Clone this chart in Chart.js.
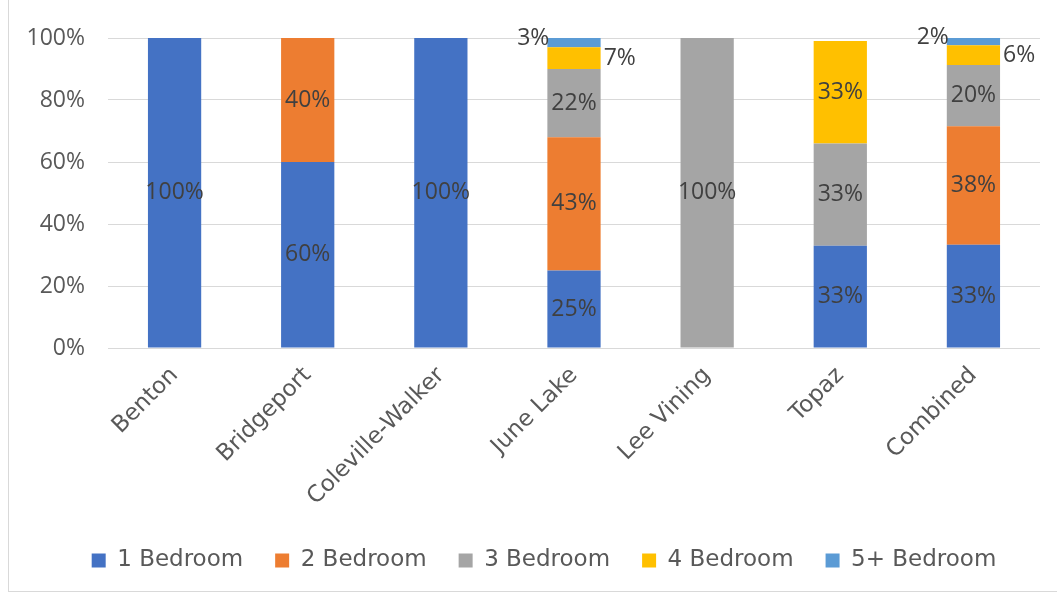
<!DOCTYPE html>
<html><head><meta charset="utf-8">
<script src="https://cdn.jsdelivr.net/npm/chart.js@4.4.0/dist/chart.umd.min.js"></script>
<style>
html,body{margin:0;padding:0;background:#fff;}
#wrap{position:relative;width:1057px;height:595px;overflow:hidden;}
#frame{position:absolute;left:8px;top:-2px;width:1070px;height:594px;border:1px solid #d9d9d9;box-sizing:border-box;}
canvas{position:absolute;left:0;top:0;}
</style></head>
<body><div id="wrap"><div id="frame"></div><canvas id="c" width="1057" height="595"></canvas></div>
<script>
const categories = ['Benton', 'Bridgeport', 'Coleville-Walker', 'June Lake', 'Lee Vining', 'Topaz', 'Combined'];
const seriesNames = ['1 Bedroom', '2 Bedroom', '3 Bedroom', '4 Bedroom', '5+ Bedroom'];
const oneBedroom = [100, 60, 100, 25, 0, 33, 33.3];
const twoBedroom = [0, 40, 0, 43, 0, 0, 38.2];
const threeBedroom = [0, 0, 0, 22, 100, 33, 19.8];
const fourBedroom = [0, 0, 0, 7, 0, 33, 6.4];
const fivePlusBedroom = [0, 0, 0, 3, 0, 0, 2.3];
const yTickValues = [0, 20, 40, 60, 80, 100];
const seriesColors = ['#4472C4', '#ED7D31', '#A5A5A5', '#FFC000', '#5B9BD5'];

const NUM_FONT = '"Open Sans", sans-serif';
const TXT_FONT = '"DejaVu Sans", sans-serif';
const FS = 23;
const allSeries = [oneBedroom, twoBedroom, threeBedroom, fourBedroom, fivePlusBedroom];
const LEG_PAD = 32;

const labelPlugin = {
  id: 'segLabels',
  afterLayout(chart) {
    if (chart.legend) { chart.legend.left += 48; }
  },
  afterDatasetsDraw(chart) {
    const ctx = chart.ctx;
    ctx.save();
    ctx.font = FS + 'px ' + NUM_FONT;
    ctx.fillStyle = '#404040';
    ctx.textBaseline = 'middle';
    chart.data.datasets.forEach((ds, di) => {
      const meta = chart.getDatasetMeta(di);
      meta.data.forEach((el, i) => {
        const v = ds.data[i];
        if (!v) return;
        const txt = Math.round(v) + '%';
        const cy = (el.y + el.base) / 2;
        if (di === 3 && v < 10) {
          ctx.textAlign = 'left';
          ctx.fillText(txt, el.x + el.width / 2 + 3, cy);
        } else if (di === 4) {
          ctx.textAlign = 'right';
          ctx.fillText(txt, el.x - el.width / 2 + 2, cy - 4);
        } else {
          ctx.textAlign = 'center';
          ctx.fillText(txt, el.x, cy);
        }
      });
    });
    ctx.restore();
  }
};

new Chart(document.getElementById('c'), {
  type: 'bar',
  data: {
    labels: categories,
    datasets: seriesNames.map((n, i) => ({
      label: n,
      data: allSeries[i],
      backgroundColor: seriesColors[i],
      borderWidth: 0,
      barPercentage: 0.4,
      categoryPercentage: 1.0
    }))
  },
  options: {
    responsive: false,
    animation: false,
    layout: { padding: { top: 38, right: 17, bottom: 13, left: 0 } },
    plugins: {
      tooltip: { enabled: false },
      legend: {
        position: 'bottom',
        labels: {
          font: { family: TXT_FONT, size: FS },
          color: '#595959',
          boxWidth: 14,
          boxHeight: 14,
          padding: LEG_PAD
        }
      }
    },
    scales: {
      x: {
        stacked: true,
        grid: { display: false },
        border: { display: false },
        ticks: {
          font: { family: TXT_FONT, size: FS },
          color: '#595959',
          minRotation: 45,
          maxRotation: 45,
          padding: 6
        },
        afterFit(s) { s.height = 548 - LEG_PAD - 347; }
      },
      y: {
        stacked: true,
        min: 0,
        max: 100,
        afterBuildTicks(s) { s.ticks = yTickValues.map(v => ({ value: v })); },
        grid: { color: '#d9d9d9', lineWidth: 1, drawTicks: false },
        border: { display: false },
        ticks: {
          font: { family: NUM_FONT, size: FS },
          color: '#595959',
          padding: 23,
          callback: v => v + '%'
        },
        afterFit(s) { s.width = 108; }
      }
    }
  },
  plugins: [labelPlugin]
});
</script>
</body></html>
